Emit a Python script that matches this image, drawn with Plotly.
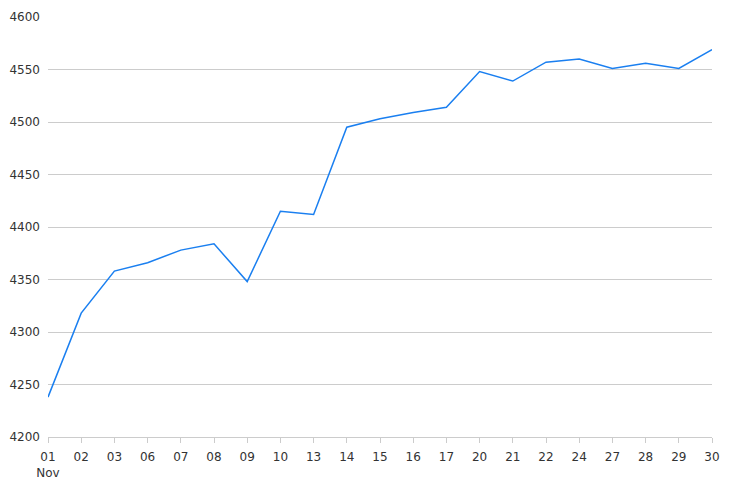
import plotly.graph_objects as go

days = ["01", "02", "03", "06", "07", "08", "09", "10", "13", "14", "15",
        "16", "17", "20", "21", "22", "24", "27", "28", "29", "30"]
values = [4238, 4318, 4358, 4366, 4378, 4384, 4348, 4415, 4412, 4495, 4503,
          4509, 4514, 4548, 4539, 4557, 4560, 4551, 4556, 4551, 4569]
tick_labels = ["01<br>Nov"] + days[1:]
y_ticks = [4200, 4250, 4300, 4350, 4400, 4450, 4500, 4550, 4600]

fig = go.Figure()
fig.add_trace(go.Scatter(
    x=list(range(len(days))), y=values, mode="lines",
    line=dict(color="#1a7ff0", width=1.5),
    hoverinfo="x+y",
))

fig.update_layout(
    width=733, height=496,
    margin=dict(l=48, r=21, t=17, b=59),
    paper_bgcolor="white", plot_bgcolor="white",
    showlegend=False,
    font=dict(family="DejaVu Sans", size=12, color="#333333"),
    xaxis=dict(
        range=[0, len(days) - 1],
        tickmode="array",
        tickvals=list(range(len(days))),
        ticktext=tick_labels,
        showgrid=False, zeroline=False,
        showline=True, linecolor="#cccccc", linewidth=1,
        ticks="outside", ticklen=5, tickcolor="#cccccc",
        ticklabelstandoff=4,
        tickfont=dict(size=12, color="#333333"),
        automargin=False,
    ),
    yaxis=dict(
        range=[4200, 4600],
        tickmode="array", tickvals=y_ticks,
        showgrid=True, gridcolor="#cccccc", gridwidth=1,
        zeroline=False, showline=False,
        ticks="", ticklabelstandoff=7,
        tickfont=dict(size=12, color="#333333"),
        automargin=False,
    ),
)

fig.write_html(
    "out.html",
    config={"displayModeBar": False},
    post_script="document.body.style.margin='0';document.body.style.overflow='hidden';",
)
